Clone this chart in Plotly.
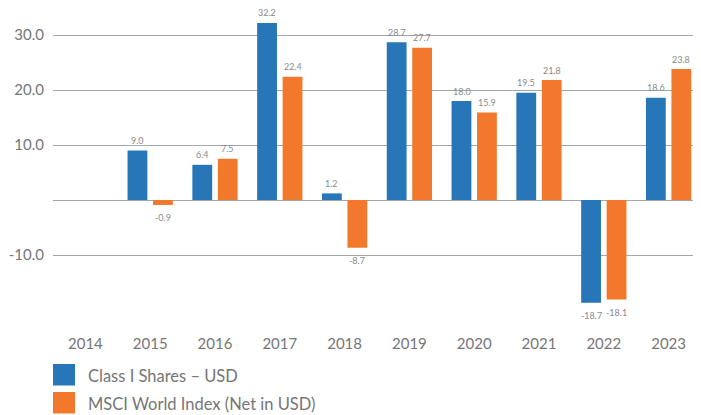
import plotly.graph_objects as go

years = ["2014", "2015", "2016", "2017", "2018", "2019", "2020", "2021", "2022", "2023"]
class_i = [None, 9.0, 6.4, 32.2, 1.2, 28.7, 18.0, 19.5, -18.7, 18.6]
msci = [None, -0.9, 7.5, 22.4, -8.7, 27.7, 15.9, 21.8, -18.1, 23.8]
series_names = ["Class I Shares \u2013 USD", "MSCI World Index (Net in USD)"]
y_tick_vals = [-10, 10, 20, 30]
y_tick_text = ["-10.0", "10.0", "20.0", "30.0"]

BLUE = "#2776b8"
ORANGE = "#f2782c"
FONT = "Lato"
TXT = "#767676"

# the page body has an 8px margin; work in page pixels and shift
OFF = 8
FW, FH = 701, 415 - OFF
L, T, W, H = 53 - OFF, 8 - OFF, 656, 324
STEP = 64.8  # pixels per category

fig = go.Figure()
for name, vals, col in [(series_names[0], class_i, BLUE), (series_names[1], msci, ORANGE)]:
    fig.add_trace(go.Bar(x=years, y=vals, name=name, marker=dict(color=col, line=dict(width=0)),
                         showlegend=False))


def px_x(x):
    return (x - OFF - L) / W


def px_y(y):
    return (T + H - (y - OFF)) / H


annotations = []
for vals, xs in [(class_i, -12.7), (msci, 12.7)]:
    for idx, v in enumerate(vals):
        if v is None:
            continue
        annotations.append(dict(x=idx, y=v, xref="x", yref="y", text=f"{v:.1f}", showarrow=False,
                                xshift=xs, yshift=10 if v >= 0 else -12.5,
                                font=dict(family=FONT, size=9, color="#8a8a8a")))

# manual legend
shapes = []
for i, (name, col) in enumerate(zip(series_names, [BLUE, ORANGE])):
    top = 364 + i * 28
    shapes.append(dict(type="rect", xref="paper", yref="paper", x0=px_x(53), x1=px_x(75),
                       y0=px_y(top), y1=px_y(top + 21.5), fillcolor=col, line=dict(width=0)))
    annotations.append(dict(x=px_x(86), y=px_y(top + 11.5), xref="paper", yref="paper", text=name,
                            showarrow=False, xanchor="left", yanchor="middle",
                            font=dict(family=FONT, size=16.5, color=TXT)))

fig.update_layout(
    width=FW, height=FH,
    margin=dict(l=L, r=FW - L - W, t=T, b=FH - T - H, pad=0),
    paper_bgcolor="white", plot_bgcolor="white",
    barmode="group", bargap=0.214, bargroupgap=0.222,
    font=dict(family=FONT, size=15, color=TXT),
    annotations=annotations, shapes=shapes,
    showlegend=False,
)
fig.update_xaxes(type="category", range=[-0.5, -0.5 + W / STEP], showgrid=False, showline=False, ticks="",
                 tickfont=dict(family=FONT, size=15, color=TXT), ticklabelstandoff=1)
fig.update_yaxes(range=[-24, 34.91], tickvals=y_tick_vals, ticktext=y_tick_text,
                 showgrid=True, gridcolor="#a2a7aa", gridwidth=1,
                 zeroline=True, zerolinecolor="#a2a7aa", zerolinewidth=1,
                 showline=False, ticks="", ticklabelstandoff=8,
                 tickfont=dict(family=FONT, size=15, color=TXT))

fig.write_html("out.html")
